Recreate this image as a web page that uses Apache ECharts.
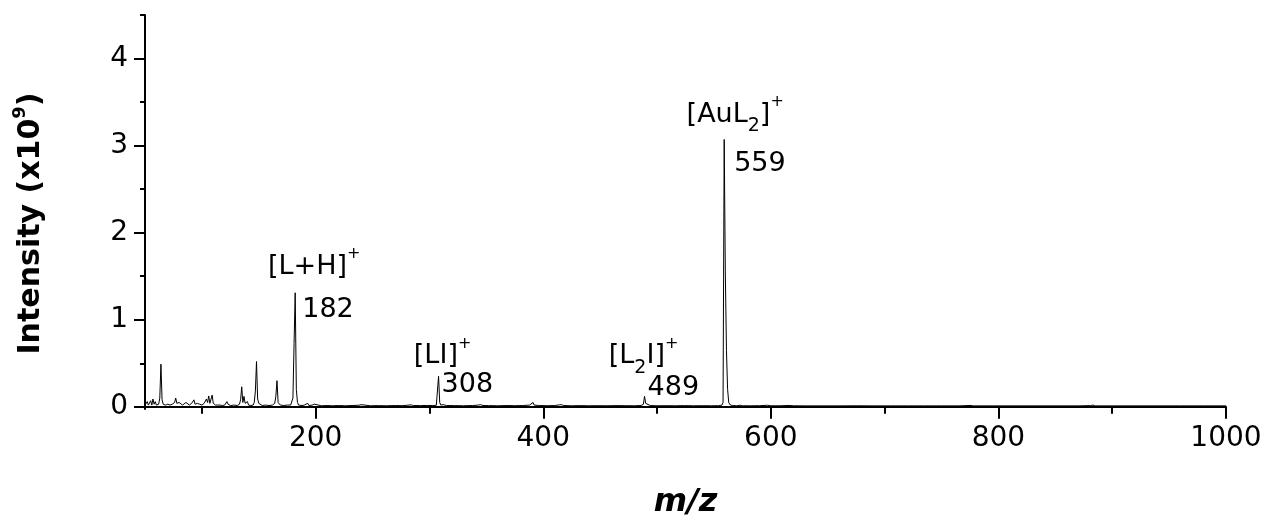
<!DOCTYPE html>
<html>
<head>
<meta charset="utf-8">
<script src="https://cdn.jsdelivr.net/npm/echarts@6/dist/echarts.min.js"></script>
<style>
    html, body { margin: 0; padding: 0; background: #fff; }
    #MassSpectrum { width: 1266px; height: 524px; }
</style>
</head>
<body>
<div id="MassSpectrum"></div>
<script>
// spectrum: m/z and intensity (x10^9)
var mzValues = [
    50, 51, 52, 53, 54, 55, 56, 57, 58, 59, 60, 62, 63, 64, 65, 66, 68, 70, 72, 74,
    76, 77, 78, 79, 80, 81, 83, 84, 86, 87, 89, 91, 93, 94, 96, 97, 98, 100, 102, 104,
    105, 106, 107, 108, 109, 110, 112, 114, 115, 116, 118, 120, 122, 123, 125, 128, 131, 133, 134, 135,
    136, 137, 138, 139, 140, 141, 143, 145, 146, 147, 148, 149, 150, 151, 153, 156, 159, 162, 164, 165,
    166, 167, 168, 169, 172, 175, 178, 179, 180, 181, 182, 183, 184, 185, 188, 190, 193, 194, 197, 199,
    200, 205, 210, 215, 220, 226, 232, 238, 240, 241, 248, 255, 262, 270, 276, 282, 284, 286, 292, 298,
    303, 306, 307, 308, 309, 310, 312, 315, 322, 330, 338, 343, 345, 347, 352, 360, 368, 375, 382, 388,
    391, 392, 396, 404, 410, 414, 416, 418, 425, 432, 440, 448, 456, 464, 472, 480, 486, 488, 489, 490,
    491, 494, 500, 508, 516, 524, 532, 540, 548, 554, 557, 558, 559, 560, 561, 562, 563, 564, 566, 570,
    573, 575, 582, 590, 597, 600, 608, 617, 620, 630, 645, 660, 675, 690, 705, 720, 735, 750, 765, 776,
    778, 795, 810, 825, 840, 855, 870, 881, 883, 885, 900, 920, 940, 960, 980, 1000
];
var intensityValues = [
    0.02, 0.03, 0.06, 0.02, 0.03, 0.07, 0.02, 0.09, 0.03, 0.06, 0.02, 0.03, 0.10, 0.49, 0.08, 0.03, 0.02, 0.03, 0.02, 0.03,
    0.05, 0.10, 0.04, 0.06, 0.05, 0.03, 0.02, 0.04, 0.05, 0.03, 0.02, 0.04, 0.08, 0.03, 0.04, 0.06, 0.03, 0.02, 0.04, 0.09,
    0.05, 0.125, 0.04, 0.06, 0.135, 0.04, 0.02, 0.02, 0.035, 0.02, 0.015, 0.02, 0.06, 0.03, 0.015, 0.02, 0.015, 0.03, 0.08, 0.23,
    0.05, 0.12, 0.04, 0.02, 0.06, 0.02, 0.015, 0.02, 0.05, 0.18, 0.52, 0.09, 0.04, 0.02, 0.015, 0.02, 0.015, 0.02, 0.04, 0.12,
    0.30, 0.05, 0.04, 0.02, 0.015, 0.02, 0.02, 0.03, 0.10, 0.73, 1.31, 0.20, 0.05, 0.02, 0.015, 0.02, 0.04, 0.015, 0.02, 0.03,
    0.015, 0.012, 0.015, 0.012, 0.015, 0.012, 0.015, 0.018, 0.025, 0.015, 0.012, 0.014, 0.012, 0.015, 0.013, 0.02, 0.022, 0.015, 0.014, 0.016,
    0.014, 0.018, 0.03, 0.35, 0.05, 0.02, 0.025, 0.015, 0.014, 0.012, 0.015, 0.02, 0.025, 0.015, 0.014, 0.012, 0.015, 0.013, 0.015, 0.02,
    0.05, 0.02, 0.015, 0.013, 0.015, 0.022, 0.025, 0.015, 0.012, 0.014, 0.012, 0.013, 0.012, 0.014, 0.013, 0.012, 0.015, 0.03, 0.12, 0.04,
    0.02, 0.015, 0.012, 0.013, 0.012, 0.014, 0.012, 0.013, 0.012, 0.013, 0.02, 0.05, 3.07, 1.55, 0.65, 0.20, 0.05, 0.025, 0.015, 0.012,
    0.018, 0.012, 0.012, 0.013, 0.018, 0.012, 0.012, 0.016, 0.012, 0.011, 0.011, 0.011, 0.012, 0.011, 0.011, 0.011, 0.011, 0.011, 0.011, 0.016,
    0.011, 0.011, 0.011, 0.011, 0.011, 0.011, 0.011, 0.014, 0.02, 0.011, 0.011, 0.011, 0.011, 0.011, 0.011, 0.011
];

// annotated peaks
var peakMz = [182, 308, 489, 559];
var peakNames = ['[L+H]{sup|+}', '[LI]{sup|+}', '[L{sub|2}I]{sup|+}', '[AuL{sub|2}]{sup|+}'];

// axis ticks
var xMajorTicks = [200, 400, 600, 800, 1000];
var xMinorTicks = [100, 300, 500, 700, 900];
var yMajorTicks = [0, 1, 2, 3, 4];
var yMinorTicks = [0.5, 1.5, 2.5, 3.5, 4.5];

// label placement (px offsets from the peak top)
var nameOffsets = [[19, -26], [4, -20], [-1, -40], [11, -25]];
var numberOffsets = [[7, 17], [3, 9], [3, -8], [10, 24]];

function drawSpectrum() {
    var chartDom = document.getElementById('MassSpectrum');
    var myChart = echarts.init(chartDom, null, {renderer: 'canvas'});
    var option;

    var lineData = [];
    for (var i = 0; i < mzValues.length; i++) {
        lineData.push([mzValues[i], intensityValues[i]]);
    }

    var nameData = [];
    var numberData = [];
    peakMz.forEach(function (mz, k) {
        var top = intensityValues[mzValues.indexOf(mz)];
        nameData.push({
            value: [mz, top],
            label: {offset: nameOffsets[k], formatter: peakNames[k]}
        });
        numberData.push({
            value: [mz, top],
            label: {offset: numberOffsets[k], formatter: String(mz)}
        });
    });

    var tickFont = 'DejaVu Sans';
    var black = '#000';

    option = {
        animation: false,
        backgroundColor: '#fff',
        grid: {left: 145, right: 40, top: 15, bottom: 111, containLabel: false},
        xAxis: [{
            type: 'value',
            min: 50,
            max: 1000,
            position: 'bottom',
            name: 'm/z',
            nameLocation: 'middle',
            nameGap: 78,
            nameTextStyle: {
                fontFamily: tickFont, fontSize: 32, fontWeight: 'bold',
                fontStyle: 'italic', color: black
            },
            axisLine: {show: true, lineStyle: {color: black, width: 2}},
            axisTick: {show: true, customValues: xMajorTicks, length: 12, lineStyle: {color: black, width: 2}},
            axisLabel: {
                customValues: xMajorTicks, fontFamily: tickFont, fontSize: 28, color: black, margin: 16,
                formatter: function (v) { return String(v); }
            },
            splitLine: {show: false}
        }, {
            // minor ticks
            type: 'value',
            min: 50,
            max: 1000,
            position: 'bottom',
            axisLine: {show: false},
            axisTick: {show: true, customValues: xMinorTicks, length: 7, lineStyle: {color: black, width: 2}},
            axisLabel: {show: false},
            splitLine: {show: false}
        }],
        yAxis: [{
            type: 'value',
            min: -0.025,
            max: 4.5,
            position: 'left',
            name: 'Intensity (x10{sup|9})',
            nameLocation: 'middle',
            nameGap: 94,
            nameTextStyle: {
                fontFamily: tickFont, fontSize: 30, fontWeight: 'bold', color: black,
                lineHeight: 40,
                padding: [0, 23, 0, 0],
                rich: {
                    sup: {fontFamily: tickFont, fontSize: 18, fontWeight: 'bold', lineHeight: 18, verticalAlign: 'top', color: black}
                }
            },
            axisLine: {show: true, lineStyle: {color: black, width: 2}},
            axisTick: {show: true, customValues: yMajorTicks, length: 11, lineStyle: {color: black, width: 2}},
            axisLabel: {customValues: yMajorTicks, fontFamily: tickFont, fontSize: 28, color: black, margin: 17},
            splitLine: {show: false}
        }, {
            // minor ticks
            type: 'value',
            min: -0.025,
            max: 4.5,
            position: 'left',
            offset: 0,
            axisLine: {show: false},
            axisTick: {show: true, customValues: yMinorTicks, length: 5, lineStyle: {color: black, width: 2}},
            axisLabel: {show: false},
            splitLine: {show: false}
        }],
        series: [{
            name: 'spectrum',
            type: 'line',
            data: lineData,
            xAxisIndex: 0,
            yAxisIndex: 0,
            showSymbol: false,
            smooth: false,
            sampling: null,
            lineStyle: {color: '#000', width: 1}
        }, {
            name: 'ion names',
            type: 'scatter',
            data: nameData,
            symbolSize: 0,
            silent: true,
            label: {
                show: true,
                position: [0, 0],
                align: 'center',
                verticalAlign: 'middle',
                fontFamily: tickFont,
                fontSize: 27,
                lineHeight: 42,
                color: black,
                opacity: 1,
                rich: {
                    sup: {fontFamily: tickFont, fontSize: 16, lineHeight: 16, verticalAlign: 'top', color: black},
                    sub: {fontFamily: tickFont, fontSize: 19, lineHeight: 24, verticalAlign: 'bottom', color: black}
                }
            }
        }, {
            name: 'peak m/z',
            type: 'scatter',
            data: numberData,
            symbolSize: 0,
            silent: true,
            label: {
                show: true,
                position: [0, 0],
                align: 'left',
                verticalAlign: 'middle',
                fontFamily: tickFont,
                fontSize: 27,
                color: black,
                opacity: 1
            }
        }]
    };

    option && myChart.setOption(option);
}

drawSpectrum();
</script>
</body>
</html>
